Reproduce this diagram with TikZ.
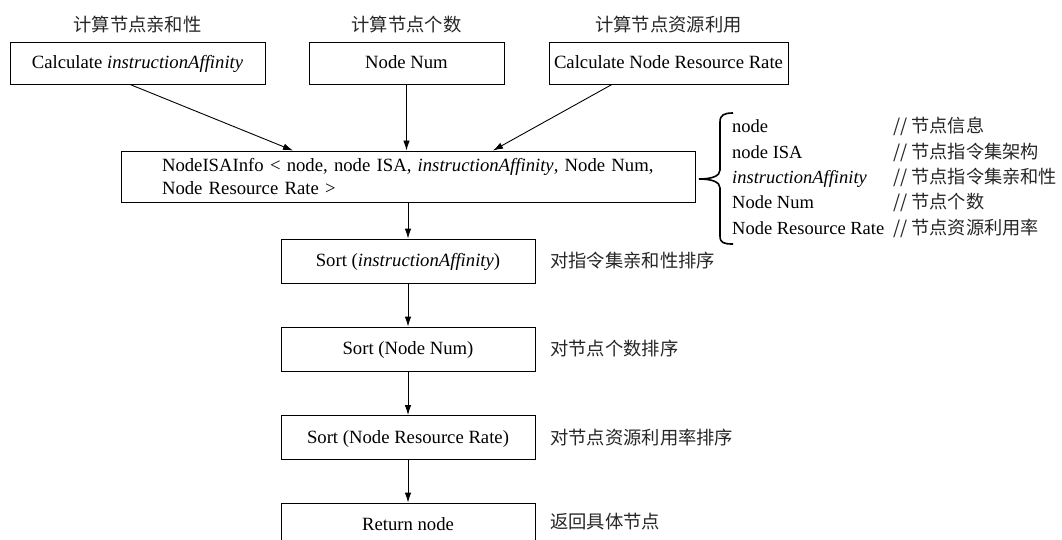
\documentclass[tikz,border=0pt]{standalone}
\usepackage{fontspec}
\setmainfont{Liberation Serif}
\newfontfamily\cjk{Noto Sans CJK SC}
\usetikzlibrary{arrows.meta}
\begin{document}
\begin{tikzpicture}[x=1pt,y=-1pt,
  box/.style={draw, line width=0.9pt, inner sep=0pt, text height=12pt, text depth=1pt, font=\fontsize{18.7}{23}\selectfont},
  cn/.style={font=\cjk\fontsize{18.3}{20}\selectfont, inner sep=0pt, text=black!85},
  entxt/.style={font=\fontsize{18.5}{23}\selectfont, inner sep=0pt, anchor=base west},
  cmtxt/.style={font=\cjk\fontsize{18.2}{20}\selectfont, inner sep=0pt, anchor=base west, text=black!85},
  arr/.style={-{Latex[length=10pt,width=6.5pt]}, line width=0.9pt},
  brc/.style={line width=1.6pt}]
\useasboundingbox (0,0) rectangle (1062,540);
% top row
\node[box, minimum width=255pt, minimum height=42pt] (b1) at (137.5,63) {Calculate \textit{instructionAffinity}};
\node[box, minimum width=195pt, minimum height=42pt] (b2) at (406.5,63) {Node Num};
\node[box, minimum width=239pt, minimum height=42pt] (b3) at (668.5,63) {Calculate Node Resource Rate};
\node[cn] (l1) at (137.5,25) {计算节点亲和性};
\node[cn] (l2) at (406.5,25) {计算节点个数};
\node[cn] (l3) at (668.5,25) {计算节点资源利用};
% info box
\node[draw, line width=0.9pt, minimum width=574pt, minimum height=51pt, inner sep=0pt, text width=492pt, align=left, font=\fontsize{18.7}{22.5}\selectfont] (info) at (408,176.5)
  {NodeISAInfo < node, node ISA, \textit{instructionAffinity}, Node Num,\\Node Resource Rate >};
% sort chain
\node[box, minimum width=254pt, minimum height=44pt] (s1) at (408,261) {Sort (\textit{instructionAffinity})};
\node[box, minimum width=254pt, minimum height=44pt] (s2) at (408,349) {Sort (Node Num)};
\node[box, minimum width=254pt, minimum height=44pt] (s3) at (408,437.5) {Sort (Node Resource Rate)};
\node[box, minimum width=254pt, minimum height=44pt] (ret) at (408,525) {Return node};
\node[cn, anchor=west] (t1) at (550,261) {对指令集亲和性排序};
\node[cn, anchor=west] (t2) at (550,349) {对节点个数排序};
\node[cn, anchor=west] (t3) at (550,437.5) {对节点资源利用率排序};
\node[cn, anchor=west] (t4) at (550,522) {返回具体节点};
% arrows
\draw[arr] ([xshift=-7.5pt]b1.south) -- ([xshift=-115pt]info.north);
\draw[arr] (b2.south) -- (b2.south |- info.north);
\draw[arr] ([xshift=-56.5pt]b3.south) -- ([xshift=85pt]info.north);
\draw[arr] (info.south) -- (s1.north);
\draw[arr] (s1.south) -- (s2.north);
\draw[arr] (s2.south) -- (s3.north);
\draw[arr] (s3.south) -- (ret.north);
% brace
\coordinate (tip) at (699,179);
\draw[brc] (733,113) .. controls (724,113) and (720,115) .. (720,122) -- (720,170)
  .. controls (720,176) and (712,179) .. (tip)
  .. controls (712,179) and (720,182) .. (720,188) -- (720,236)
  .. controls (720,243) and (724,244) .. (733,244);
% legend
\node[entxt] (k1) at (732,133) {node};
\node[entxt] (k2) at (732,158.25) {node ISA};
\node[entxt] (k3) at (732,183.5) {\textit{instructionAffinity}};
\node[entxt] (k4) at (732,208.75) {Node Num};
\node[entxt] (k5) at (732,234) {Node Resource Rate};
\node[cmtxt] (c1) at (893,133) {// 节点信息};
\node[cmtxt] (c2) at (893,158.25) {// 节点指令集架构};
\node[cmtxt] (c3) at (893,183.5) {// 节点指令集亲和性};
\node[cmtxt] (c4) at (893,208.75) {// 节点个数};
\node[cmtxt] (c5) at (893,234) {// 节点资源利用率};
\end{tikzpicture}
\end{document}
